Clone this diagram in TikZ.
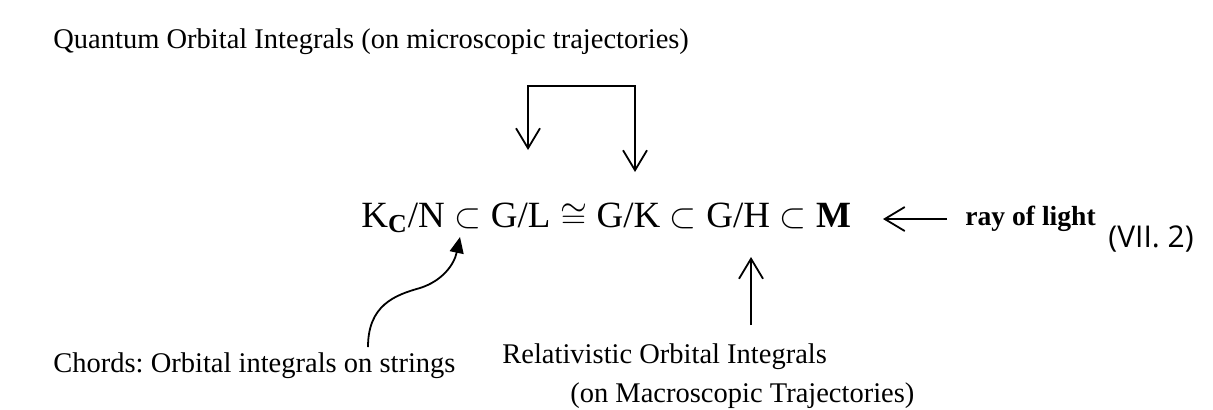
\documentclass[tikz,border=0pt]{standalone}
\usepackage{fontspec}
\setmainfont{Liberation Serif}
\newfontfamily\eqnfont{Open Sans}
\usetikzlibrary{arrows.meta}
\frenchspacing

\begin{document}
\begin{tikzpicture}[
  x=0.5pt, y=-0.5pt,
  caption/.style={anchor=base west, inner sep=0pt, align=left,
               font=\fontsize{14.25}{19.5}\selectfont},
  formula/.style={anchor=base west, inner sep=0pt, font=\fontsize{18.5}{22}\selectfont},
  barb/.tip={Straight Barb[length=10pt, width=12pt]},
  openarrow/.style={-barb, line width=0.9pt},
  bentarrow/.style={-{Triangle[length=8pt, width=7pt]}, line width=0.9pt},
]
\useasboundingbox (0,0) rectangle (1213,409);

\node[caption] (quantum) at (53,48) {Quantum Orbital Integrals (on microscopic trajectories)};
\node[formula] (chain) at (361,227)
  {K\textsubscript{\textbf{C}}/N${}\subset{}$G/L${}\cong{}$G/K${}\subset{}$G/H${}\subset{}$\textbf{M}};
\node[caption, font=\fontsize{13.8}{16}\selectfont\bfseries] (ray) at (965,225) {ray of light};
\node[caption, font=\fontsize{15}{18}\selectfont\eqnfont] (eqno) at (1108,247) {(VII. 2)};
\node[caption] (chords) at (53,372) {Chords: Orbital integrals on strings};
\node[caption] (relativ) at (502,402)
  {Relativistic Orbital Integrals\\\hspace*{34pt}(on Macroscopic Trajectories)};

% bracket from the quantum integrals
\coordinate (lefttip) at (528,150);
\coordinate (righttip) at (635,172);
\coordinate (bracket) at (580,86);
\draw[barb-barb, line width=0.9pt] (lefttip) |- (bracket) -| (righttip);

% ray of light into M
\coordinate (raytail) at (947,219);
\coordinate (raytip) at (883,219);
\draw[openarrow] (raytail) -- (raytip);

% strings
\coordinate (stringtail) at (368,347);
\coordinate (stringtip) at (460,237);
\draw[bentarrow] (stringtail) .. controls (368,305) and (395,295) .. (420,288)
  .. controls (442,281) and (454,265) .. (stringtip);

% macroscopic trajectories
\coordinate (macrotail) at (751,325);
\coordinate (macrotip) at (751,257);
\draw[openarrow] (macrotail) -- (macrotip);
\end{tikzpicture}
\end{document}
